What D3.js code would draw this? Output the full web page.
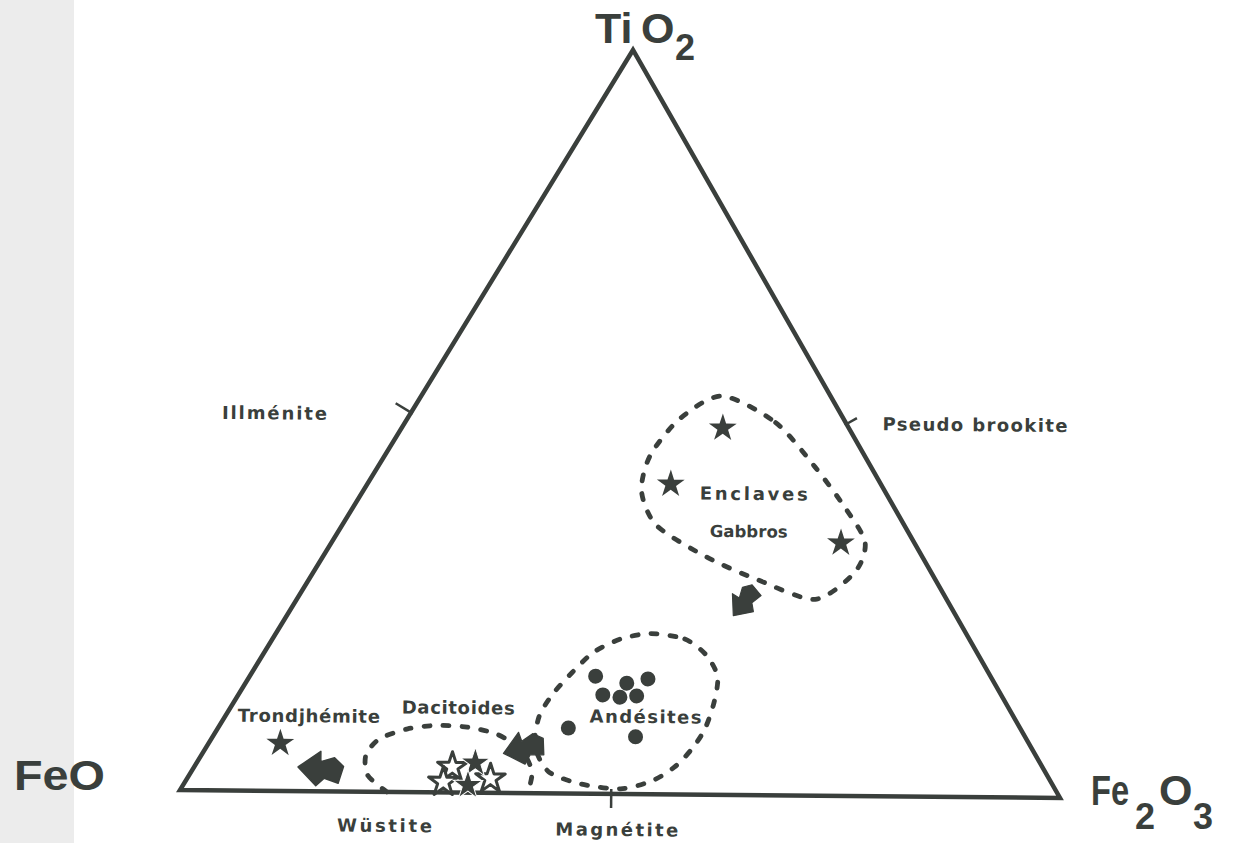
<!DOCTYPE html>
<html>
<head>
<meta charset="utf-8">
<script src="https://cdn.jsdelivr.net/npm/d3@7/dist/d3.min.js"></script>
<style>
  body { margin: 0; background: #fff; }
  svg { display: block; }
</style>
</head>
<body>
<svg id="chart"></svg>
<script>
// Compositions are [Fe2O3, TiO2] fractions, FeO = 1 - both
const enclavesGabbros = [[0.363, 0.493], [0.343, 0.417], [0.576, 0.340]];
const andesites = [[0.391, 0.158], [0.431, 0.149], [0.452, 0.155], [0.412, 0.133],
                   [0.433, 0.130], [0.451, 0.132], [0.396, 0.088], [0.478, 0.077]];
const trondhjemite = [[0.081, 0.064]];
const dacitoidesOpen = [[0.292, 0.034], [0.292, 0.014], [0.343, 0.019]];
const dacitoidesFilled = [[0.315, 0.040], [0.322, 0.010]];

// dashed fields
const fieldEnclaves = [[0.340, 0.536], [0.419, 0.501], [0.494, 0.442], [0.558, 0.386], [0.603, 0.341],
                       [0.612, 0.301], [0.586, 0.264], [0.509, 0.289], [0.435, 0.319], [0.356, 0.361],
                       [0.315, 0.407], [0.300, 0.455], [0.308, 0.505]];
const fieldAndesites = [[0.423, 0.216], [0.466, 0.209], [0.501, 0.188], [0.529, 0.159], [0.543, 0.124],
                        [0.551, 0.088], [0.550, 0.061], [0.543, 0.037], [0.527, 0.018], [0.497, 0.007],
                        [0.449, 0.013], [0.404, 0.029], [0.371, 0.063], [0.355, 0.103], [0.355, 0.134],
                        [0.362, 0.163], [0.372, 0.190], [0.393, 0.208]];
const fieldDacitoides = [[0.235, 0.000], [0.202, 0.022], [0.186, 0.049], [0.190, 0.071], [0.215, 0.085],
                         [0.246, 0.090], [0.281, 0.088], [0.319, 0.079], [0.357, 0.059], [0.385, 0.029],
                         [0.395, 0.000]];

// evolution arrows: position, direction (deg), size
const arrows = [
  { at: [0.507, 0.261], dir: -50, size: 1.15 },
  { at: [0.360, 0.061], dir: -12, size: 1.35 },
  { at: [0.145, 0.030], dir: 8, size: 1.45 }
];

const minerals = [
  { name: "Illménite", at: [0.0, 0.51], tick: "left" },
  { name: "Pseudo brookite", at: [0.5, 0.5], tick: "right" },
  { name: "Magnétite", at: [0.49, 0.0], tick: "bottom" },
  { name: "Wüstite", at: [0.235, 0.0], tick: null }
];

const fieldLabels = [
  { name: "Enclaves", at: [0.443, 0.406] },
  { name: "Gabbros", at: [0.463, 0.356] },
  { name: "Andésites", at: [0.475, 0.105] },
  { name: "Dacitoides", at: [0.257, 0.115] },
  { name: "Trondjhémite", at: [0.094, 0.102] }
];

const width = 1236, height = 843;
const ink = "#3a3f3c";
const A = [180, 790], B = [1060, 798], C = [633, 50]; // FeO, Fe2O3, TiO2 corners on the page

const svg = d3.select("#chart").attr("width", width).attr("height", height)
  .style("font-family", "'Liberation Sans', Arial, sans-serif");

svg.append("rect").attr("width", width).attr("height", height).attr("fill", "#fff");
svg.append("rect").attr("width", 74).attr("height", height).attr("fill", "#ececec"); // scan edge

// local frame: base along x, slightly tilted like the scan
const rot = Math.atan2(B[1] - A[1], B[0] - A[0]);
const base = Math.hypot(B[0] - A[0], B[1] - A[1]);
const cx = C[0] - A[0], cy = C[1] - A[1];
const apexX = cx * Math.cos(rot) + cy * Math.sin(rot);
const apexY = -cx * Math.sin(rot) + cy * Math.cos(rot);

const xB = d3.scaleLinear().domain([0, 1]).range([0, base]);
const xC = d3.scaleLinear().domain([0, 1]).range([0, apexX]);
const yC = d3.scaleLinear().domain([0, 1]).range([0, apexY]);
const proj = d => [xB(d[0]) + xC(d[1]), yC(d[1])];

const g = svg.append("g")
  .attr("transform", `translate(${A[0]},${A[1]}) rotate(${rot * 180 / Math.PI})`);

// triangle
g.append("path")
  .attr("d", d3.line()([proj([0, 0]), proj([1, 0]), proj([0, 1])]) + "Z")
  .attr("fill", "none").attr("stroke", ink).attr("stroke-width", 4.5)
  .attr("stroke-linejoin", "miter");

// dashed fields
const dash = { "stroke": ink, "stroke-width": 4.8, "stroke-dasharray": "6 13", "stroke-linecap": "round", "fill": "none" };
function applyStyle(sel, st) { Object.entries(st).forEach(([k, v]) => sel.attr(k, v)); return sel; }
applyStyle(g.append("path").attr("d", d3.line().curve(d3.curveCardinalClosed.tension(0.2))(fieldEnclaves.map(proj))), dash);
applyStyle(g.append("path").attr("d", d3.line().curve(d3.curveCardinalClosed.tension(0.2))(fieldAndesites.map(proj))), dash);
applyStyle(g.append("path").attr("d", d3.line().curve(d3.curveCardinal.tension(0.2))(fieldDacitoides.map(proj))), dash);

// mineral ticks
const edgeDir = { left: [apexX, apexY], right: [apexX - base, apexY], bottom: [base, 0] };
minerals.forEach(m => {
  const p = proj(m.at);
  if (m.tick) {
    const e = edgeDir[m.tick], len = Math.hypot(e[0], e[1]);
    let n = [e[1] / len, -e[0] / len]; // normal
    if (m.tick === "left") n = [-Math.abs(n[0]), -Math.abs(n[1])];
    if (m.tick === "right") n = [Math.abs(n[0]), -Math.abs(n[1])];
    if (m.tick === "bottom") n = [0, 1];
    const out = m.tick === "left" ? 18 : m.tick === "right" ? 12 : 14;
    const inn = m.tick === "bottom" ? 5 : 2;
    g.append("line")
      .attr("x1", p[0] - n[0] * inn).attr("y1", p[1] - n[1] * inn)
      .attr("x2", p[0] + n[0] * out).attr("y2", p[1] + n[1] * out)
      .attr("stroke", ink).attr("stroke-width", 2.5);
  }
});

// labels (widths follow the spaced-out print)
const labelFont = "'DejaVu Sans', Verdana, sans-serif";
const minLabel = {
  "Illménite": { dx: -84, dy: 8, anchor: "end", w: 105 },
  "Pseudo brookite": { dx: 36, dy: 6, anchor: "start", w: 185 },
  "Magnétite": { dx: 6, dy: 42, anchor: "middle", w: 123 },
  "Wüstite": { dx: -2, dy: 40, anchor: "middle", w: 95 }
};
minerals.forEach(m => {
  const p = proj(m.at), o = minLabel[m.name];
  g.append("text")
    .attr("x", p[0] + o.dx).attr("y", p[1] + o.dy)
    .attr("text-anchor", o.anchor)
    .attr("textLength", o.w).attr("lengthAdjust", "spacing")
    .attr("font-family", labelFont)
    .attr("font-size", 18).attr("font-weight", "bold").attr("fill", ink)
    .text(m.name);
});

const fieldStyle = {
  "Enclaves": { w: 108, fs: 18 },
  "Gabbros": { w: 78, fs: 16.5 },
  "Andésites": { w: 112, fs: 18 },
  "Dacitoides": { w: 113, fs: 18 },
  "Trondjhémite": { w: 142, fs: 18 }
};
fieldLabels.forEach(l => {
  const p = proj(l.at), s = fieldStyle[l.name];
  g.append("text")
    .attr("x", p[0] - s.w / 2).attr("y", p[1] + 7)
    .attr("textLength", s.w).attr("lengthAdjust", "spacing")
    .attr("font-family", labelFont)
    .attr("font-size", s.fs).attr("font-weight", "bold").attr("fill", ink)
    .text(l.name);
});

// arrows
const arrowShape = "M-16,1 L-2,-12 L-1,-5 L8,-9 L15,-4 L13,8 L3,6 L-2,12 Z";
g.selectAll("path.arrow").data(arrows).join("path")
  .attr("class", "arrow")
  .attr("d", arrowShape)
  .attr("transform", d => { const p = proj(d.at); return `translate(${p[0]},${p[1]}) rotate(${d.dir}) scale(${d.size})`; })
  .attr("fill", ink).attr("stroke", ink).attr("stroke-width", 1).attr("stroke-linejoin", "round");

// symbols
const star = s => d3.symbol().type(d3.symbolStar).size(s)();
g.selectAll("path.star").data(enclavesGabbros.concat(trondhjemite)).join("path")
  .attr("class", "star").attr("d", star(240))
  .attr("transform", d => `translate(${proj(d)})`)
  .attr("fill", ink);

g.selectAll("path.dacopen").data(dacitoidesOpen).join("path")
  .attr("class", "dacopen").attr("d", star(270))
  .attr("transform", d => `translate(${proj(d)})`)
  .attr("fill", "#fff").attr("stroke", ink).attr("stroke-width", 3).attr("stroke-linejoin", "round");
g.selectAll("path.dacfill").data(dacitoidesFilled).join("path")
  .attr("class", "dacfill").attr("d", star(270))
  .attr("transform", d => `translate(${proj(d)})`)
  .attr("fill", ink).attr("stroke", "#fff").attr("stroke-width", 1);

g.selectAll("circle.and").data(andesites).join("circle")
  .attr("class", "and").attr("r", 7.5)
  .attr("cx", d => proj(d)[0]).attr("cy", d => proj(d)[1])
  .attr("fill", ink);

// corner labels
const big = svg.append("g").attr("font-size", 43).attr("font-weight", "bold").attr("fill", ink);
const ti = big.append("text").attr("x", C[0] - 38).attr("y", C[1] - 7);
ti.append("tspan").text("Ti");
ti.append("tspan").attr("x", C[0] + 8).text("O");
ti.append("tspan").attr("x", C[0] + 42).attr("dy", 17).attr("font-size", 36).text("2");

big.append("text").attr("x", A[0] - 166).attr("y", A[1])
  .attr("textLength", 91).attr("lengthAdjust", "spacingAndGlyphs").text("FeO");

// Fe2O3, the "Fe" is narrow in the print
big.append("text").attr("transform", `translate(${B[0] + 31},${B[1] + 7}) scale(0.76,1)`).text("Fe");
big.append("text").attr("x", B[0] + 75).attr("y", B[1] + 31).attr("font-size", 36).text("2");
big.append("text").attr("x", B[0] + 99).attr("y", B[1] + 7).text("O");
big.append("text").attr("x", B[0] + 133).attr("y", B[1] + 31).attr("font-size", 36).text("3");
</script>
</body>
</html>
